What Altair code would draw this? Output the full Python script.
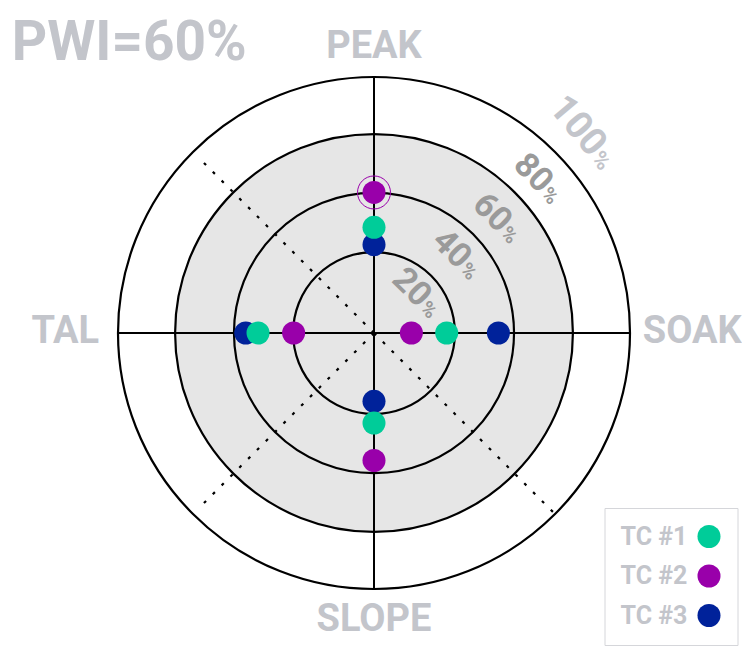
import altair as alt
import pandas as pd
import numpy as np

# ---------------- data ----------------
axes_names = ["PEAK", "SOAK", "SLOPE", "TAL"]
series = ["TC #1", "TC #2", "TC #3"]
colors = ["#00cc99", "#9900aa", "#00229a"]

# radial value per axis (PEAK, SOAK, SLOPE, TAL), in % of the outer ring radius
tc1 = [41.3, 28.4, 35.2, 45.3]
tc2 = [54.9, 14.6, 49.8, 31.4]
tc3 = [34.5, 48.6, 26.7, 50.1]

ring_values = [31.6, 54.7, 77.7, 100.0]
shaded_value = 77.7
ring_labels = ["20", "40", "60", "80", "100"]
highlight = [("PEAK", "TC #2")]
title_text = ["PWI=60%"]

# ---------------- layout / style ----------------
R_PX = 256
axis_dir = {"PEAK": 90, "SOAK": 0, "SLOPE": -90, "TAL": 180}
label_pos = {"PEAK": (0, 107.4), "SOAK": (124.3, -3.9), "SLOPE": (0, -116.3), "TAL": (-120.6, -3.9)}
title_pos = (-141.5, 106.6)
label_radii = [23.6, 45.3, 66.5, 88.6, 112.5]
label_shift_px = [14, 15, 18, 19, 30]
label_angles = [45, 45, 45, 46, 50]
label_sizes = [34, 34, 34, 34, 38]
label_colors = ["#9a9a9a", "#9a9a9a", "#9a9a9a", "#9a9a9a", "#c3c5cb"]
FONT = "Roboto"
GRAY = "#c3c5cb"

xs = alt.Scale(domain=[-100, 100], nice=False, zero=False)
ys = alt.Scale(domain=[-100, 100], nice=False, zero=False)
rs = alt.Scale(type="linear", domain=[0, 100], range=[0, R_PX], zero=True)

# points (drawn TC #3 first so TC #1 sits on top)
rows = []
for s, vals in zip(["TC #3", "TC #2", "TC #1"], [tc3, tc2, tc1]):
    for a, v in zip(axes_names, vals):
        ang = np.deg2rad(axis_dir[a])
        rows.append({"series": s, "axis": a, "value": v,
                     "x": round(v * np.cos(ang), 4), "y": round(v * np.sin(ang), 4)})
pts = pd.DataFrame(rows)
hl = pts[[(r.axis, r.series) in highlight for r in pts.itertuples()]]

rings = pd.DataFrame({"r": ring_values})
shade = pd.DataFrame({"r": [shaded_value]})

cross = pd.DataFrame({"x": [0, -100], "y": [-100, 0], "x2": [0, 100], "y2": [100, 0]})
spokes = [(135, 96), (-45, 99), (-135, 95)]
dash = pd.DataFrame({
    "x": [0.0] * len(spokes), "y": [0.0] * len(spokes),
    "x2": [L * np.cos(np.deg2rad(a)) for a, L in spokes],
    "y2": [L * np.sin(np.deg2rad(a)) for a, L in spokes],
})

d45 = np.deg2rad(45)
lab = pd.DataFrame({"num": ring_labels, "r": label_radii, "col": label_colors,
                    "ang": label_angles, "fs": label_sizes})
t_units = np.array(label_shift_px) / (R_PX / 100)
lab["x"] = lab["r"] * np.cos(d45) + t_units * np.cos(-d45)
lab["y"] = lab["r"] * np.sin(d45) + t_units * np.sin(-d45)
lab["pct"] = "%"
lab["pfs"] = lab["fs"] * 20 / 34

axlab = pd.DataFrame({"name": axes_names,
                      "x": [label_pos[a][0] for a in axes_names],
                      "y": [label_pos[a][1] for a in axes_names]})
ttl = pd.DataFrame({"t": title_text, "x": [title_pos[0]], "y": [title_pos[1]]})


def X(f="x"):
    return alt.X(f"{f}:Q", scale=xs, axis=None)


def Y(f="y"):
    return alt.Y(f"{f}:Q", scale=ys, axis=None)


shade_layer = alt.Chart(shade).mark_arc(theta=0, theta2=6.2832, fill="#e6e6e6").encode(
    radius=alt.Radius("r:Q", scale=rs, stack=None))
ring_layer = alt.Chart(rings).mark_arc(theta=0, theta2=6.2832, fillOpacity=0,
                                       stroke="black", strokeWidth=2.2).encode(
    radius=alt.Radius("r:Q", scale=rs, stack=None))
cross_layer = alt.Chart(cross).mark_rule(color="black", strokeWidth=2).encode(
    x=X(), y=Y(), x2="x2:Q", y2="y2:Q")
dash_layer = alt.Chart(dash).mark_rule(color="black", strokeWidth=2.2, strokeDash=[3, 9.5]).encode(
    x=X(), y=Y(), x2="x2:Q", y2="y2:Q")

num_layer = alt.Chart(lab).mark_text(align="right", baseline="alphabetic", dy=12,
                                     font=FONT, fontWeight="bold").encode(
    x=X(), y=Y(), text="num:N", color=alt.Color("col:N", scale=None),
    angle=alt.Angle("ang:Q", scale=None), size=alt.Size("fs:Q", scale=None))
pct_layer = alt.Chart(lab).mark_text(align="left", baseline="alphabetic", dy=12, dx=1,
                                     font=FONT, fontWeight="bold").encode(
    x=X(), y=Y(), text="pct:N", color=alt.Color("col:N", scale=None),
    angle=alt.Angle("ang:Q", scale=None), size=alt.Size("pfs:Q", scale=None))

pt_layer = alt.Chart(pts).mark_circle(size=530, opacity=1).encode(
    x=X(), y=Y(),
    color=alt.Color("series:N", scale=alt.Scale(domain=series, range=colors),
                    legend=alt.Legend(
                        orient="none", legendX=486.5, legendY=431, title=None,
                        labelFont=FONT, labelFontSize=25, labelFontWeight="bold",
                        labelColor=GRAY, symbolType="circle", symbolSize=530,
                        symbolOpacity=1, symbolStrokeWidth=0, symbolOffset=76,
                        labelOffset={"expr": "-101"}, rowPadding=13.5, padding=16,
                        strokeColor="#d5d6da", fillColor="white")),
)
halo_layer = alt.Chart(hl).mark_point(shape="circle", size=1089, filled=False,
                                       stroke="#9900aa", strokeWidth=1, opacity=1).encode(
    x=X(), y=Y())

axlab_layer = alt.Chart(axlab).mark_text(align="center", baseline="alphabetic", font=FONT,
                                         fontSize=38, fontWeight="bold", color=GRAY).encode(
    x=X(), y=Y(), text="name:N")

title_layer = alt.Chart(ttl).mark_text(align="left", baseline="alphabetic", font=FONT,
                                       fontSize=55, fontWeight="bold", color=GRAY).encode(
    x=X(), y=Y(), text="t:N")

chart = alt.layer(
    shade_layer, ring_layer, cross_layer, dash_layer, num_layer, pct_layer,
    pt_layer, halo_layer, axlab_layer, title_layer,
).properties(
    width=512, height=512,
    autosize=alt.AutoSizeParams(type="none"),
    padding={"left": 110, "top": 69, "right": 112, "bottom": 58},
).configure_view(stroke=None)

chart.save("out.html", embed_options={"renderer": "svg", "actions": False})
